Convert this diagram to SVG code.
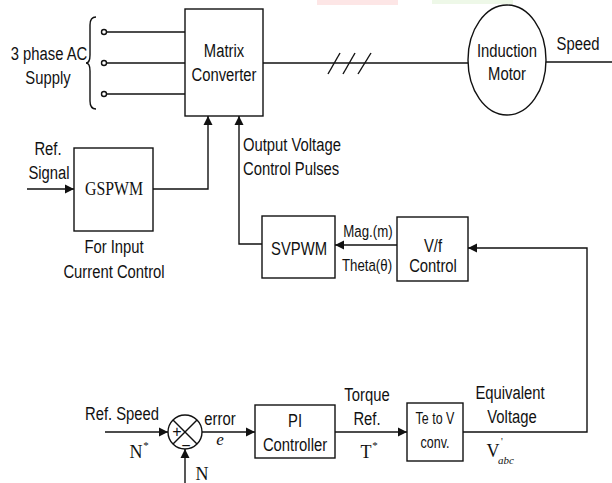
<svg xmlns="http://www.w3.org/2000/svg" width="612" height="483" viewBox="0 0 612 483">
<style>
.s{font-family:"Liberation Sans",Arial,sans-serif;font-size:19px;fill:#111;text-anchor:middle}
.st{text-anchor:start}
.m{font-size:17px}
.k{font-size:16px}
.t{font-family:"Liberation Serif","Times New Roman",serif;fill:#111;text-anchor:middle}
.b{fill:#fff;stroke:#111;stroke-width:1.4}
.w{fill:none;stroke:#111;stroke-width:1.4}
</style>
<defs>
<marker id="ah" markerWidth="10" markerHeight="10" refX="9" refY="5" orient="auto" markerUnits="userSpaceOnUse">
<path d="M0,0.5 L9,5 L0,9.5 Z" fill="#111"/>
</marker>
</defs>
<rect x="0" y="0" width="612" height="483" fill="#fff"/>
<rect x="317" y="0" width="81" height="5" fill="#fde6e6"/>
<rect x="432" y="0" width="81" height="4" fill="#eef8e8"/>

<g id="connectors">
<path class="w" d="M96,17 Q90,17 90,25 L90,55 Q90,63 86,63 Q90,63 90,71 L90,101 Q90,109 96,109"/>
<circle cx="104" cy="32" r="2.5" class="w"/>
<circle cx="104" cy="63" r="2.5" class="w"/>
<circle cx="104" cy="94" r="2.5" class="w"/>
<line class="w" x1="106.5" y1="32" x2="185" y2="32"/>
<line class="w" x1="106.5" y1="63" x2="185" y2="63"/>
<line class="w" x1="106.5" y1="94" x2="185" y2="94"/>
<line class="w" x1="263" y1="63" x2="468" y2="63"/>
<line class="w" x1="328" y1="74" x2="340" y2="53"/>
<line class="w" x1="343" y1="74" x2="355" y2="53"/>
<line class="w" x1="358" y1="74" x2="371" y2="53"/>
<line class="w" x1="546" y1="62" x2="612" y2="62"/>
<line class="w" x1="27" y1="189" x2="74" y2="189" marker-end="url(#ah)"/>
<path class="w" d="M153,189 H208 V116" marker-end="url(#ah)"/>
<path class="w" d="M262,244 H239 V116" marker-end="url(#ah)"/>
<line class="w" x1="397" y1="245" x2="335" y2="245" marker-end="url(#ah)"/>
<path class="w" d="M463,432 H587 V248 H468" marker-end="url(#ah)"/>
<line class="w" x1="105" y1="432" x2="168" y2="432" marker-end="url(#ah)"/>
<line class="w" x1="185" y1="483" x2="185" y2="449" marker-end="url(#ah)"/>
<line class="w" x1="202" y1="432" x2="255" y2="432" marker-end="url(#ah)"/>
<line class="w" x1="335" y1="432" x2="407" y2="432" marker-end="url(#ah)"/>
</g>

<g id="supply">
<text class="s" transform="translate(49,60) scale(.78,1)">3 phase AC</text>
<text class="s" transform="translate(48,84) scale(.78,1)">Supply</text>
</g>

<g id="matrix-converter">
<rect class="b" x="185" y="9" width="78" height="107"/>
<text class="s" transform="translate(224,57) scale(.78,1)">Matrix</text>
<text class="s" transform="translate(224,81) scale(.78,1)">Converter</text>
</g>

<g id="induction-motor">
<ellipse class="b" cx="507" cy="60" rx="39" ry="55"/>
<text class="s" transform="translate(507,57) scale(.78,1)">Induction</text>
<text class="s" transform="translate(507,80) scale(.78,1)">Motor</text>
<text class="s" transform="translate(578,50) scale(.78,1)">Speed</text>
</g>

<g id="gspwm">
<text class="s" transform="translate(48,155) scale(.78,1)">Ref.</text>
<text class="s" transform="translate(49,179) scale(.78,1)">Signal</text>
<rect class="b" x="74" y="148" width="79" height="83"/>
<text class="t" font-size="18" transform="translate(114,195) scale(.88,1)">GSPWM</text>
<text class="s" transform="translate(114,253) scale(.78,1)">For Input</text>
<text class="s" transform="translate(114,278) scale(.78,1)">Current Control</text>
</g>

<g id="pulses-label">
<text class="s st" transform="translate(243,151) scale(.78,1)">Output Voltage</text>
<text class="s st" transform="translate(243,175) scale(.78,1)">Control Pulses</text>
</g>

<g id="svpwm">
<rect class="b" x="262" y="216" width="73" height="62"/>
<text class="s" transform="translate(299,255) scale(.78,1)">SVPWM</text>
<text class="s m" transform="translate(368,237) scale(.78,1)">Mag.(m)</text>
<text class="s m" transform="translate(367,271) scale(.78,1)">Theta(θ)</text>
</g>

<g id="vf-control">
<rect class="b" x="397" y="217" width="71" height="64"/>
<text class="s" transform="translate(433,252) scale(.78,1)">V/f</text>
<text class="s" transform="translate(433,272) scale(.78,1)">Control</text>
</g>

<g id="summing-junction">
<text class="s" transform="translate(122,420) scale(.78,1)">Ref. Speed</text>
<text class="t" x="136" y="458" font-size="18">N</text>
<text class="t" x="146" y="449" font-size="11">*</text>
<circle class="b" cx="185" cy="432" r="17"/>
<line class="w" x1="173" y1="420" x2="197" y2="444"/>
<line class="w" x1="197" y1="420" x2="173" y2="444"/>
<text class="s k" x="177" y="437">+</text>
<text class="s k" x="186" y="451">−</text>
<text class="t" x="202" y="480" font-size="18">N</text>
<text class="s" transform="translate(220,425) scale(.78,1)">error</text>
<text class="t" x="220" y="445" font-size="17" font-style="italic">e</text>
</g>

<g id="pi-controller">
<rect class="b" x="255" y="405" width="80" height="53"/>
<text class="s" transform="translate(295,427) scale(.78,1)">PI</text>
<text class="s" transform="translate(295,451) scale(.78,1)">Controller</text>
<text class="s" transform="translate(367,401) scale(.78,1)">Torque</text>
<text class="s" transform="translate(367,425) scale(.78,1)">Ref.</text>
<text class="t" x="366" y="458" font-size="18">T</text>
<text class="t" x="375" y="449" font-size="11">*</text>
</g>

<g id="te-to-v">
<rect class="b" x="407" y="403" width="56" height="58"/>
<text class="s k" transform="translate(435,424) scale(.78,1)">Te to V</text>
<text class="s k" transform="translate(435,448) scale(.78,1)">conv.</text>
<text class="s" transform="translate(510,399) scale(.78,1)">Equivalent</text>
<text class="s" transform="translate(512,423) scale(.78,1)">Voltage</text>
<text class="t" x="493" y="457" font-size="18">V</text>
<text class="t" x="502" y="445" font-size="10">'</text>
<text class="t" x="506" y="464" font-size="11" font-style="italic">abc</text>
</g>
</svg>
